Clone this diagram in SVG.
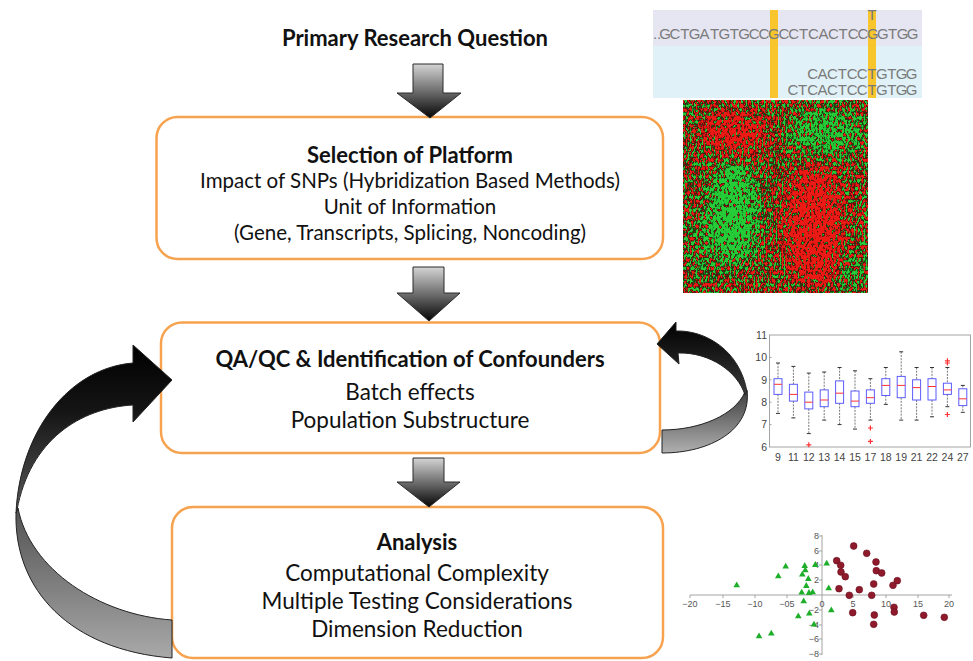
<svg xmlns="http://www.w3.org/2000/svg" xmlns:xlink="http://www.w3.org/1999/xlink" width="973" height="661" viewBox="0 0 973 661">
  <style>
    .box { fill: #ffffff; stroke: #f6a24f; stroke-width: 2.5; }
    .title { font-family: Lato, "Open Sans", "Liberation Sans", sans-serif; font-size: 22px; font-weight: bold; fill: #111; text-anchor: middle; }
    .line { font-family: Lato, "Open Sans", "Liberation Sans", sans-serif; font-size: 20.5px; fill: #111; text-anchor: middle; }
    .big { font-size: 22.5px; }
    .down { fill: url(#downGrad); stroke: #2a2a2a; stroke-width: 1; }
    .seq { font-family: "Liberation Sans", "DejaVu Sans", sans-serif; font-size: 15px; fill: #7a7a7a; text-anchor: middle; }
    .ax { fill: none; stroke: #9a9a9a; stroke-width: 0.9; }
    .tick { font-family: "Liberation Sans", sans-serif; font-size: 10.5px; fill: #444; text-anchor: middle; }
    .tickR { font-family: "Liberation Sans", sans-serif; font-size: 10.5px; fill: #444; text-anchor: end; }
    .stick { font-family: "Liberation Sans", sans-serif; font-size: 9px; fill: #555; text-anchor: middle; }
    .stickR { font-family: "Liberation Sans", sans-serif; font-size: 9px; fill: #555; text-anchor: end; }
  </style>
  <defs>
    <linearGradient id="downGrad" x1="0" y1="0" x2="0" y2="1">
      <stop offset="0" stop-color="#d4d4d4"/>
      <stop offset="0.5" stop-color="#6e6e6e"/>
      <stop offset="1" stop-color="#050505"/>
    </linearGradient>
    <linearGradient id="leftUpper" gradientUnits="userSpaceOnUse" x1="0" y1="345" x2="0" y2="513">
      <stop offset="0" stop-color="#000"/>
      <stop offset="0.4" stop-color="#151515"/>
      <stop offset="1" stop-color="#5a5a5a"/>
    </linearGradient>
    <linearGradient id="leftLower" gradientUnits="userSpaceOnUse" x1="0" y1="505" x2="0" y2="658">
      <stop offset="0" stop-color="#505050"/>
      <stop offset="1" stop-color="#a9a9a9"/>
    </linearGradient>
    <linearGradient id="rightUpper" gradientUnits="userSpaceOnUse" x1="0" y1="322" x2="0" y2="395">
      <stop offset="0" stop-color="#000"/>
      <stop offset="1" stop-color="#3a3a3a"/>
    </linearGradient>
    <linearGradient id="rightLower" gradientUnits="userSpaceOnUse" x1="0" y1="390" x2="0" y2="453">
      <stop offset="0" stop-color="#3c3c3c"/>
      <stop offset="1" stop-color="#b0b0b0"/>
    </linearGradient>
    <!-- soft edges for the heat-map bias regions -->
    <filter id="soft" x="-50%" y="-50%" width="200%" height="200%">
      <feGaussianBlur stdDeviation="9"/>
    </filter>
    <!-- expression heat-map texture: fine noise pushed towards red or green by the underlying layout -->
    <filter id="heat" x="683" y="100" width="185" height="193" filterUnits="userSpaceOnUse" color-interpolation-filters="sRGB">
      <feTurbulence type="fractalNoise" baseFrequency="0.5 0.24" numOctaves="2" seed="11" result="n"/>
      <feColorMatrix in="n" type="matrix" values="1 0 0 0 0  0 1 0 0 0  0 0 1 0 0  0 0 0 0 1" result="n1"/>
      <feComposite in="n1" in2="SourceGraphic" operator="arithmetic" k1="0" k2="1" k3="1" k4="-0.5" result="c"/>
      <feColorMatrix in="c" type="matrix" values="7 0 0 0 -3.3  -7 0 0 0 3.7  0 0 0 0 0  0 0 0 0 1" result="rg"/>
      <feColorMatrix in="rg" type="matrix" values="0.92 0.15 0 0 0  0.1 0.8 0 0 0  0.08 0.22 0 0 0  0 0 0 0 1" result="tone"/>
      <feGaussianBlur in="tone" stdDeviation="0.45"/>
    </filter>
    <path id="tri" d="M0,-3.6 L3.3,2.2 L-3.3,2.2 Z" fill="#1fae2a"/>
  </defs>

  <rect width="973" height="661" fill="#ffffff"/>

  <!-- sequence alignment panel -->
  <g id="panel-sequence">
    <rect x="653" y="10" width="269" height="36" fill="#e6e6f2"/>
    <rect x="653" y="46" width="269" height="52" fill="#e0f1f8"/>
    <rect x="770" y="10" width="8" height="88" fill="#f8c52c"/>
    <rect x="868" y="10" width="8" height="88" fill="#f8c52c"/>
    <text class="seq" font-size="11" x="872" y="20">T</text>
    <text class="seq" y="39" x="655 659 665 674.9 684.8 694.7 704.6 714.5 724.4 734.3 744.2 754.1 764 773.9 783.8 793.7 803.6 813.5 823.4 833.3 843.2 853.1 863 872.9 882.8 892.7 902.6 912.5">..GCTGATGTGCCGCCTCACTCCGGTGG</text>
    <text class="seq" y="79" x="812.6 822.5 832.4 842.3 852.2 862.1 872 881.9 891.8 901.7 911.6">CACTCCTGTGG</text>
    <text class="seq" y="95" x="792.8 802.7 812.6 822.5 832.4 842.3 852.2 862.1 872 881.9 891.8 901.7 911.6">CTCACTCCTGTGG</text>
  </g>

  <!-- heat map -->
  <g id="panel-heatmap" filter="url(#heat)">
    <rect x="683" y="100" width="185" height="193" fill="#840000"/>
    <g filter="url(#soft)">
      <ellipse cx="735" cy="132" rx="32" ry="20" fill="#a40000"/>
      <ellipse cx="826" cy="132" rx="40" ry="22" fill="#620000"/>
      <ellipse cx="733" cy="213" rx="24" ry="52" fill="#520000"/>
      <ellipse cx="814" cy="226" rx="28" ry="60" fill="#ac0000"/>
      <ellipse cx="852" cy="272" rx="12" ry="18" fill="#6a0000"/>
      <ellipse cx="700" cy="250" rx="10" ry="35" fill="#700000"/>
    </g>
  </g>

  <!-- box plot -->
  <g id="panel-boxplot">
    <rect class="ax" x="769.5" y="335" width="201" height="112"/>
    <path class="ax" d="M769.5,357.4h2M769.5,379.8h2M769.5,402.2h2M769.5,424.6h2"/>
    <text class="tickR" x="767" y="339">11</text>
    <text class="tickR" x="767" y="361">10</text>
    <text class="tickR" x="767" y="384">9</text>
    <text class="tickR" x="767" y="406">8</text>
    <text class="tickR" x="767" y="428">7</text>
    <text class="tickR" x="767" y="451">6</text>
    <path fill="none" stroke="#555" stroke-width="0.8" stroke-dasharray="2 1.2" d="M778,363V378.7M778,394.4V413.4M793.4,366.4V384.3M793.4,401.1V417.9M808.8,373.1V392.1M808.8,408.9V433.6M824.2,372V389.9M824.2,406.7V420.1M839.6,367.5V380.9M839.6,403.3V424.6M855,370.8V391M855,406.7V429.1M870.4,378.7V389.9M870.4,403.3V420.1M885.8,367.5V378.7M885.8,395.5V404.4M901.2,351.8V376.4M901.2,397.7V420.1M916.6,367.5V379.8M916.6,400V420.1M932,367.5V378.7M932,400V416.8M947.4,367.5V383.2M947.4,394.4V406.7M962.8,385.4V388.8M962.8,405.6V412.3"/>
    <path fill="none" stroke="#333" stroke-width="1" d="M776,363h4M776,413.4h4M791.4,366.4h4M791.4,417.9h4M806.8,373.1h4M806.8,433.6h4M822.2,372h4M822.2,420.1h4M837.6,367.5h4M837.6,424.6h4M853,370.8h4M853,429.1h4M868.4,378.7h4M868.4,420.1h4M883.8,367.5h4M883.8,404.4h4M899.2,351.8h4M899.2,420.1h4M914.6,367.5h4M914.6,420.1h4M930,367.5h4M930,416.8h4M945.4,367.5h4M945.4,406.7h4M960.8,385.4h4M960.8,412.3h4"/>
    <g fill="none" stroke="#5b5bff" stroke-width="1">
      <rect x="774" y="378.7" width="8" height="15.7"/>
      <rect x="789.4" y="384.3" width="8" height="16.8"/>
      <rect x="804.8" y="392.1" width="8" height="16.8"/>
      <rect x="820.2" y="389.9" width="8" height="16.8"/>
      <rect x="835.6" y="380.9" width="8" height="22.4"/>
      <rect x="851" y="391" width="8" height="15.7"/>
      <rect x="866.4" y="389.9" width="8" height="13.4"/>
      <rect x="881.8" y="378.7" width="8" height="16.8"/>
      <rect x="897.2" y="376.4" width="8" height="21.3"/>
      <rect x="912.6" y="379.8" width="8" height="20.2"/>
      <rect x="928" y="378.7" width="8" height="21.3"/>
      <rect x="943.4" y="383.2" width="8" height="11.2"/>
      <rect x="958.8" y="388.8" width="8" height="16.8"/>
    </g>
    <path fill="none" stroke="#ff3333" stroke-width="1" d="M774,384.3h8M789.4,394.4h8M804.8,402.2h8M820.2,400h8M835.6,393.2h8M851,401.1h8M866.4,397.7h8M881.8,385.4h8M897.2,385.4h8M912.6,387.6h8M928,386.5h8M943.4,389.9h8M958.8,398.8h8"/>
    <path fill="none" stroke="#ff3333" stroke-width="1.2" d="M806.3,444.8h5M808.8,442.3v5M867.9,428h5M870.4,425.5v5M867.9,441.4h5M870.4,438.9v5M944.9,360.8h5M947.4,358.3v5M944.9,363h5M947.4,360.5v5M944.9,414.5h5M947.4,412v5"/>
    <text class="tick" x="778" y="461">9</text>
    <text class="tick" x="793.4" y="461">11</text>
    <text class="tick" x="808.8" y="461">12</text>
    <text class="tick" x="824.2" y="461">13</text>
    <text class="tick" x="839.6" y="461">14</text>
    <text class="tick" x="855" y="461">15</text>
    <text class="tick" x="870.4" y="461">17</text>
    <text class="tick" x="885.8" y="461">18</text>
    <text class="tick" x="901.2" y="461">19</text>
    <text class="tick" x="916.6" y="461">21</text>
    <text class="tick" x="932" y="461">22</text>
    <text class="tick" x="947.4" y="461">24</text>
    <text class="tick" x="962.8" y="461">27</text>
  </g>

  <!-- scatter plot -->
  <g id="panel-scatter">
    <path class="ax" d="M690,595H952M822,535V655"/>
    <path class="ax" d="M690,595v3M723,595v3M755,595v3M787,595v3M853,595v3M886,595v3M918,595v3M949,595v3M822,536h-3M822,551h-3M822,565h-3M822,580h-3M822,610h-3M822,625h-3M822,639h-3M822,654h-3"/>
    <text class="stick" x="690" y="607">−20</text>
    <text class="stick" x="723" y="607">−15</text>
    <text class="stick" x="755" y="607">−10</text>
    <text class="stick" x="787" y="607">−05</text>
    <text class="stick" x="822" y="607">0</text>
    <text class="stick" x="853" y="607">5</text>
    <text class="stick" x="886" y="607">10</text>
    <text class="stick" x="918" y="607">15</text>
    <text class="stick" x="949" y="607">20</text>
    <text class="stickR" x="819" y="539">8</text>
    <text class="stickR" x="819" y="554">6</text>
    <text class="stickR" x="819" y="568">4</text>
    <text class="stickR" x="819" y="583">2</text>
    <text class="stickR" x="819" y="613">−2</text>
    <text class="stickR" x="819" y="628">−4</text>
    <text class="stickR" x="819" y="642">−6</text>
    <text class="stickR" x="819" y="657">−8</text>
    <g>
      <use href="#tri" x="736.7" y="585"/>
      <use href="#tri" x="759" y="636"/>
      <use href="#tri" x="771.3" y="633.3"/>
      <use href="#tri" x="778.3" y="576"/>
      <use href="#tri" x="785.7" y="566.3"/>
      <use href="#tri" x="798.3" y="616"/>
      <use href="#tri" x="801.7" y="592.3"/>
      <use href="#tri" x="802.3" y="574.3"/>
      <use href="#tri" x="803.7" y="601"/>
      <use href="#tri" x="804.7" y="565.7"/>
      <use href="#tri" x="805.3" y="570"/>
      <use href="#tri" x="806.3" y="585.7"/>
      <use href="#tri" x="808.3" y="578.7"/>
      <use href="#tri" x="809" y="592.7"/>
      <use href="#tri" x="809.3" y="613.3"/>
      <use href="#tri" x="812.7" y="592"/>
      <use href="#tri" x="814" y="624.3"/>
      <use href="#tri" x="815.3" y="564.7"/>
      <use href="#tri" x="826.7" y="563.3"/>
      <use href="#tri" x="828.7" y="588"/>
      <use href="#tri" x="831.3" y="610"/>
    </g>
    <g fill="#8e1a2c" stroke="#6a0f1e" stroke-width="0.6">
      <circle cx="836.7" cy="560.7" r="3.4"/>
      <circle cx="840.7" cy="565.3" r="3.4"/>
      <circle cx="841" cy="572" r="3.4"/>
      <circle cx="845.3" cy="576.7" r="3.4"/>
      <circle cx="839" cy="588.7" r="3.4"/>
      <circle cx="849.3" cy="595.3" r="3.4"/>
      <circle cx="853.7" cy="546" r="3.4"/>
      <circle cx="852.7" cy="612.7" r="3.4"/>
      <circle cx="859.3" cy="589.7" r="3.4"/>
      <circle cx="866.7" cy="553.3" r="3.4"/>
      <circle cx="876" cy="562" r="3.4"/>
      <circle cx="876.3" cy="570.7" r="3.4"/>
      <circle cx="873.7" cy="584" r="3.4"/>
      <circle cx="871.7" cy="595.3" r="3.4"/>
      <circle cx="874.3" cy="615" r="3.4"/>
      <circle cx="873.7" cy="624.3" r="3.4"/>
      <circle cx="881.7" cy="573" r="3.4"/>
      <circle cx="893" cy="585.3" r="3.4"/>
      <circle cx="897.3" cy="580.7" r="3.4"/>
      <circle cx="894" cy="607.3" r="3.4"/>
      <circle cx="894.3" cy="612" r="3.4"/>
      <circle cx="923.7" cy="615.3" r="3.4"/>
      <circle cx="944.3" cy="617.3" r="3.4"/>
    </g>
  </g>

  <!-- workflow steps -->
  <g id="node-question">
    <text class="title" x="415" y="46">Primary Research Question</text>
  </g>
  <g id="node-platform">
    <rect class="box" x="156.5" y="117" width="506.5" height="142" rx="21"/>
    <text class="title" x="410" y="163">Selection of Platform</text>
    <text class="line" x="410" y="188">Impact of SNPs (Hybridization Based Methods)</text>
    <text class="line" x="410" y="214">Unit of Information</text>
    <text class="line" x="410" y="240">(Gene, Transcripts, Splicing, Noncoding)</text>
  </g>
  <g id="node-qaqc">
    <rect class="box" x="161" y="322.5" width="499" height="130.5" rx="21"/>
    <text class="title" font-size="20.8" x="410" y="367">QA/QC &amp; Identification of Confounders</text>
    <text class="line big" x="410" y="400">Batch effects</text>
    <text class="line big" x="410" y="428">Population Substructure</text>
  </g>
  <g id="node-analysis">
    <rect class="box" x="172" y="507" width="491" height="151" rx="21"/>
    <text class="title" x="417" y="550">Analysis</text>
    <text class="line big" x="417" y="581">Computational Complexity</text>
    <text class="line big" x="417" y="609">Multiple Testing Considerations</text>
    <text class="line big" x="417" y="637">Dimension Reduction</text>
  </g>

  <!-- connectors -->
  <g id="connectors">
    <path class="down" d="M413,64H443V93H461L430,118L397,93H413Z"/>
    <path class="down" d="M413,267H444V293H460L429,321L397,293H413Z"/>
    <path class="down" d="M413,458H444V482H460L429,507L397,482H413Z"/>

    <!-- loop back from Analysis to QA/QC -->
    <path fill="url(#leftLower)" stroke="#222" stroke-width="1" d="M16,513C14,590 70,650 172,658L172,620C100,615 30,570 18,508Z"/>
    <path fill="url(#leftUpper)" stroke="#222" stroke-width="1" d="M133,363L133,345L172,380L133,422L133,405C80,408 30,440 17,510L16,513C20,430 70,368 133,363Z"/>

    <!-- self loop on QA/QC -->
    <path fill="url(#rightLower)" stroke="#222" stroke-width="1" d="M747,390C752,430 710,453 662,453L662,430C700,430 735,415 745,392Z"/>
    <path fill="url(#rightUpper)" stroke="#222" stroke-width="1" d="M676,322L657,344L679,364L678,353C710,352 738,372 745,395L747,392C740,350 705,330 676,331Z"/>
  </g>
</svg>
